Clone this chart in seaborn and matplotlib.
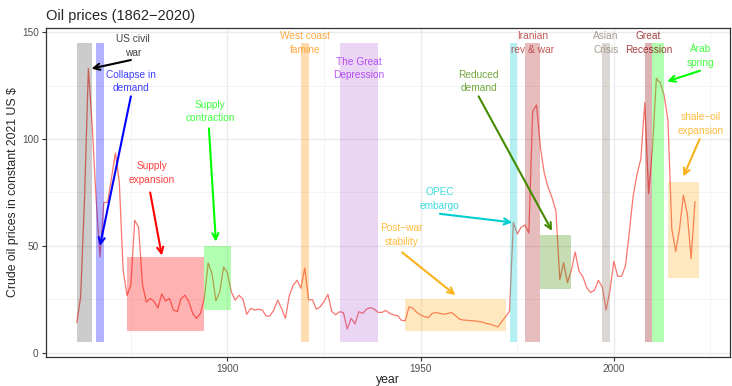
import numpy as np
import pandas as pd
import matplotlib
matplotlib.use("Agg")
import matplotlib.pyplot as plt
from matplotlib.ticker import MultipleLocator
import seaborn as sns

# Serie de precios (US$ constantes de 2021)
years = list(range(1861, 2022))
prices = [
    14.1, 26.2, 72, 133, 106, 72, 44.8, 70.3, 70.5, 82,
    93.5, 80, 38.6, 26.8, 31.8, 62, 58.7, 32, 23.7, 25.4,
    24, 21, 27.5, 24.2, 25.4, 20, 19.2, 25.4, 26.9, 23.9,
    18.4, 16.1, 18.4, 25.4, 42, 37, 24.3, 28.5, 40.1, 37.3,
    28.5, 24.6, 26.9, 25.1, 18, 20.8, 20, 20.4, 20, 17.2,
    17.2, 20, 24.6, 20.8, 16.1, 26.7, 31.6, 33.9, 30.2, 39.7,
    24.8, 24.8, 20.4, 21.5, 24, 27.3, 19.3, 17.8, 19.2, 18.8,
    11.1, 16.1, 13.5, 19.2, 18.4, 20.4, 21.1, 20.4, 18.9, 18.9,
    19.8, 18.4, 17.7, 17.4, 15.2, 15, 21.5, 20.8, 18.9, 17.7,
    16.9, 16.4, 18.4, 18.8, 18.4, 18, 18.4, 18.8, 17.4, 15.8,
    15.3, 15.2, 15, 14.9, 14.6, 14.3, 13.7, 13.4, 12.7, 12.1,
    14.6, 16.9, 19.5, 61, 55.6, 58.7, 59.8, 56, 112.9, 116,
    96, 84, 77.3, 72.6, 66.4, 34.2, 42.1, 32.8, 38.6, 47.1,
    38.1, 35.5, 30.4, 28.2, 29.3, 33.9, 30.8, 20, 29.3, 42.8,
    35.8, 35.8, 40.6, 56.4, 73.4, 83.5, 90.8, 117, 74.5, 95.9,
    128.4, 126.3, 120.6, 109, 57.9, 47.4, 57.9, 73.7, 65.3, 44,
    70.8,
]

# Periodos (rectangulos)
ev_x0 = [1861, 1866, 1874, 1894, 1919, 1929, 1946, 1973, 1977, 1981, 1997, 2008, 2010, 2014]
ev_x1 = [1865, 1868, 1894, 1901, 1921, 1939, 1972, 1975, 1981, 1989, 1999, 2010, 2013, 2022]
ev_y0 = [5, 5, 10, 20, 5, 5, 10, 5, 5, 30, 5, 5, 5, 35]
ev_y1 = [145, 145, 45, 50, 145, 145, 25, 145, 145, 55, 145, 145, 145, 80]
ev_colors = ["black", "blue", "red", "#00FF00", "darkorange", "#9932CC", "orange",
             "darkturquoise", "firebrick", "#458B00", "#8B7D6B", "darkred", "#00FF00", "orange"]
ev_alpha = [0.2, 0.3, 0.3, 0.3, 0.3, 0.2, 0.25, 0.3, 0.3, 0.3, 0.3, 0.3, 0.3, 0.25]

# Etiquetas de texto
lab_text = ["US civil\nwar", "Collapse in\ndemand", "Supply\nexpansion", "Supply\ncontraction",
            "West coast\nfamine", "The Great\nDepression", "Post\u2212war\nstability",
            "OPEC\nembargo", "Reduced\ndemand", "Iranian\nrev & war", "Asian\nCrisis",
            "Great\nRecession", "Arab\nspring", "shale\u2212oil\nexpansion"]
lab_x = [1875.5, 1875, 1880.5, 1895.5, 1920, 1934, 1945, 1955, 1965, 1979, 1998, 2009, 2022.4, 2022.4]
lab_y = [143.5, 127, 84, 113, 145, 133, 55, 72, 127, 145, 145, 145, 139, 107]
lab_colors = ["black", "blue", "red", "#00FF00", "darkorange", "#A020F0", "orange",
              "darkturquoise", "#458B00", "firebrick", "#8B7D6B", "darkred", "#00FF00", "orange"]

# Flechas
arr_from_x = [1875, 1875, 1880, 1895.2, 1945.2, 1955, 1965, 2022.3, 2022.2]
arr_from_y = [137, 120, 75, 105, 47, 65, 120, 132, 100]
arr_to_x = [1864.8, 1867, 1883, 1897, 1959, 1973.7, 1984, 2013.8, 2018]
arr_to_y = [133, 50, 45.5, 52, 27, 61, 57, 127, 82.5]
arr_colors = ["black", "blue", "red", "#00FF00", "#F9B21A", "#00CDCD", "#458B00", "#00FF00", "#F9B21A"]

df = pd.DataFrame({"year": years, "price": prices})

sns.set_style("white")
plt.rcParams["font.family"] = ["Liberation Sans", "DejaVu Sans"]

fig = plt.figure(figsize=(7.32, 3.86), dpi=100)
ax = fig.add_axes([0.0624, 0.0751, 0.9348, 0.8524])

sns.lineplot(data=df, x="year", y="price", color="#F8766D", linewidth=0.9, ax=ax, zorder=2)

for x0, x1, y0, y1, c, a in zip(ev_x0, ev_x1, ev_y0, ev_y1, ev_colors, ev_alpha):
    ax.fill_between([x0, x1], y0, y1, color=c, alpha=a, linewidth=0, zorder=3)

for x0, y0, x1, y1, c in zip(arr_from_x, arr_from_y, arr_to_x, arr_to_y, arr_colors):
    ax.annotate("", xy=(x1, y1), xytext=(x0, y0),
                arrowprops=dict(arrowstyle="->", color=c, lw=1.5, mutation_scale=11,
                                shrinkA=0, shrinkB=0), zorder=4)

for t, x, y, c in zip(lab_text, lab_x, lab_y, lab_colors):
    ax.text(x, y, t, color=c, alpha=0.75, fontsize=7.3, ha="center", va="center",
            linespacing=1.45, zorder=5)

ax.set_xlim(1852.95, 2030.05)
ax.set_ylim(-2, 152)
ax.xaxis.set_major_locator(MultipleLocator(50))
ax.xaxis.set_minor_locator(MultipleLocator(25))
ax.yaxis.set_major_locator(MultipleLocator(50))
ax.yaxis.set_minor_locator(MultipleLocator(25))
ax.grid(which="major", color="#EBEBEB", linewidth=1.0, zorder=0)
ax.grid(which="minor", color="#F2F2F2", linewidth=0.6, zorder=0)
ax.set_axisbelow(True)
ax.tick_params(which="major", length=3, width=0.8, color="#333333", labelsize=7.2,
               labelcolor="#4D4D4D", pad=2, bottom=True, left=True)
ax.tick_params(which="minor", length=0)
for s in ax.spines.values():
    s.set_color("#333333")
    s.set_linewidth(0.9)

ax.set_xlabel("year", fontsize=8.8, labelpad=0)
ax.set_ylabel("Crude oil prices in constant 2021 US $", fontsize=8.8, labelpad=2)
ax.set_title("Oil prices (1862\u22122020)", fontsize=10.5, loc="left", pad=6)

fig.savefig("out.png", dpi=100)
